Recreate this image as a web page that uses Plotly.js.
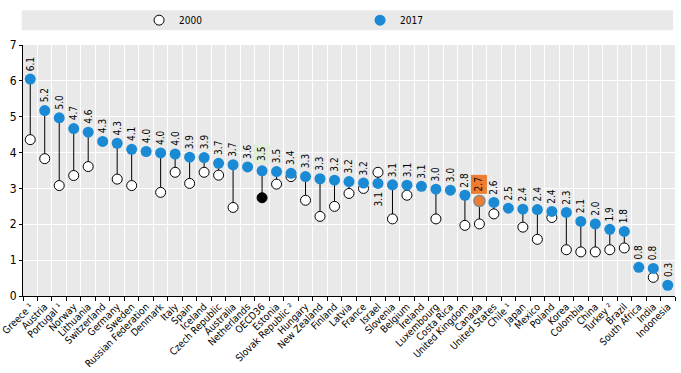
<!DOCTYPE html>
<html><head><meta charset="utf-8">
<script src="https://cdn.plot.ly/plotly-3.0.1.min.js"></script>
<style>body{margin:0;padding:0;background:#fff}#chart{width:681px;height:373px}</style>
</head><body><div id="chart"></div>
<script>
const countries = ["Greece ¹","Austria","Portugal ¹","Norway","Lithuania","Switzerland","Germany","Sweden","Russian Federation","Denmark","Italy","Spain","Iceland","Czech Republic","Australia","Netherlands","OECD36","Estonia","Slovak Republic ²","Hungary","New Zealand","Finland","Latvia","France","Israel","Slovenia","Belgium","Ireland","Luxembourg","Costa Rica","United Kingdom","Canada","United States","Chile ¹","Japan","Mexico","Poland","Korea","Colombia","China","Turkey ²","Brazil","South Africa","India","Indonesia"];
const v2017 = [6.05,5.17,4.97,4.67,4.57,4.31,4.26,4.09,4.03,3.99,3.96,3.87,3.86,3.70,3.66,3.60,3.49,3.47,3.42,3.33,3.27,3.23,3.19,3.15,3.14,3.10,3.09,3.06,2.98,2.95,2.81,2.65,2.61,2.45,2.42,2.41,2.36,2.33,2.08,2.01,1.86,1.80,0.80,0.77,0.30];
const v2000 = [4.36,3.83,3.08,3.36,3.61,null,3.26,3.08,null,2.89,3.45,3.14,3.45,3.37,2.47,null,2.74,3.12,3.33,2.67,2.22,2.50,2.86,3.00,3.45,2.15,2.81,null,2.15,null,1.97,2.01,2.29,null,1.92,1.58,2.19,1.29,1.23,1.23,1.29,1.34,null,0.52,null];
const labels2017 = ["6.1","5.2","5.0","4.7","4.6","4.3","4.3","4.1","4.0","4.0","4.0","3.9","3.9","3.7","3.7","3.6","3.5","3.5","3.4","3.3","3.3","3.2","3.2","3.2","3.1","3.1","3.1","3.1","3.0","3.0","2.8","2.7","2.6","2.5","2.4","2.4","2.4","2.3","2.1","2.0","1.9","1.8","0.8","0.8","0.3"];
const highlightOECD = "OECD36";
const highlightCountry = "Canada";
const labelBelow = ["Israel"];

const BLUE = "#1a8ad4";
const ORANGE = "#ee7d31";
const FONT = "Liberation Sans Narrow, Arial Narrow, DejaVu Sans Condensed, Liberation Sans, Arial";

// connector lines
const lx = [], ly = [];
countries.forEach((c,i)=>{ if(v2000[i]!==null){ lx.push(c,c,null); ly.push(v2000[i],v2017[i],null);} });

const col2000 = countries.map(c => c===highlightOECD ? "#000" : "#fff");
const col2017 = countries.map(c => c===highlightCountry ? ORANGE : BLUE);
const line2017c = countries.map(c => c===highlightCountry ? "#888" : BLUE);
const line2017w = countries.map(c => c===highlightCountry ? 1.5 : 0);

const traces = [
  {x: lx, y: ly, mode: "lines", line: {color: "#000", width: 1}, showlegend: false, hoverinfo: "skip"},
  {x: countries, y: v2000, mode: "markers", name: "2000",
   marker: {symbol: "circle", size: 10, color: col2000, line: {color: "#000", width: 1}}},
  {x: countries, y: v2017, mode: "markers", name: "2017",
   marker: {symbol: "circle", size: 11, color: col2017, line: {color: line2017c, width: line2017w}}}
];

const annotations = countries.map((c,i)=>{
  const below = labelBelow.includes(c);
  const a = {x: c, y: v2017[i], xref: "x", yref: "y", text: labels2017[i], showarrow: false,
    textangle: -90, yanchor: below ? "top" : "bottom", yshift: below ? -8 : 7,
    font: {family: FONT, size: 10, color: "#000"}, borderpad: 0};
  if (c===highlightCountry) { a.bgcolor = ORANGE; a.borderpad = 2; }
  if (c===highlightOECD) { a.bgcolor = "#e2efd8"; a.borderpad = 2; }
  return a;
});

const layout = {
  width: 681, height: 373,
  margin: {l: 23, r: 6, t: 43, b: 77},
  paper_bgcolor: "#fff", plot_bgcolor: "#e9e9e9",
  font: {family: FONT, size: 10, color: "#000"},
  xaxis: {type: "category", categoryorder: "array", categoryarray: countries,
    tickangle: -45, tickson: "boundaries", ticks: "outside", ticklen: 4, tickcolor: "#000",
    showgrid: true, gridcolor: "#fff", gridwidth: 1, showline: true, linecolor: "#000", linewidth: 1,
    tickfont: {size: 10}, range: [-0.5, countries.length-0.5], zeroline: false},
  yaxis: {range: [0, 7], dtick: 1, ticks: "outside", ticklen: 3, tickcolor: "#000", showgrid: true, gridcolor: "#fff",
    gridwidth: 1, showline: true, linecolor: "#000", linewidth: 1, zeroline: false, tickfont: {size: 12}},
  showlegend: true,
  legend: {orientation: "h", x: 0.178, xanchor: "left", y: 1.099, yanchor: "middle", bgcolor: "rgba(0,0,0,0)",
    entrywidth: 176, entrywidthmode: "pixels", itemwidth: 30, font: {size: 10}},
  shapes: [{type: "rect", xref: "paper", yref: "paper", x0: -0.002, x1: 0.997, y0: 1.059, y1: 1.138,
    fillcolor: "#e9e9e9", line: {width: 0}, layer: "below"}],
  annotations: annotations
};

Plotly.newPlot("chart", traces, layout, {displayModeBar: false, staticPlot: true});
</script></body></html>
